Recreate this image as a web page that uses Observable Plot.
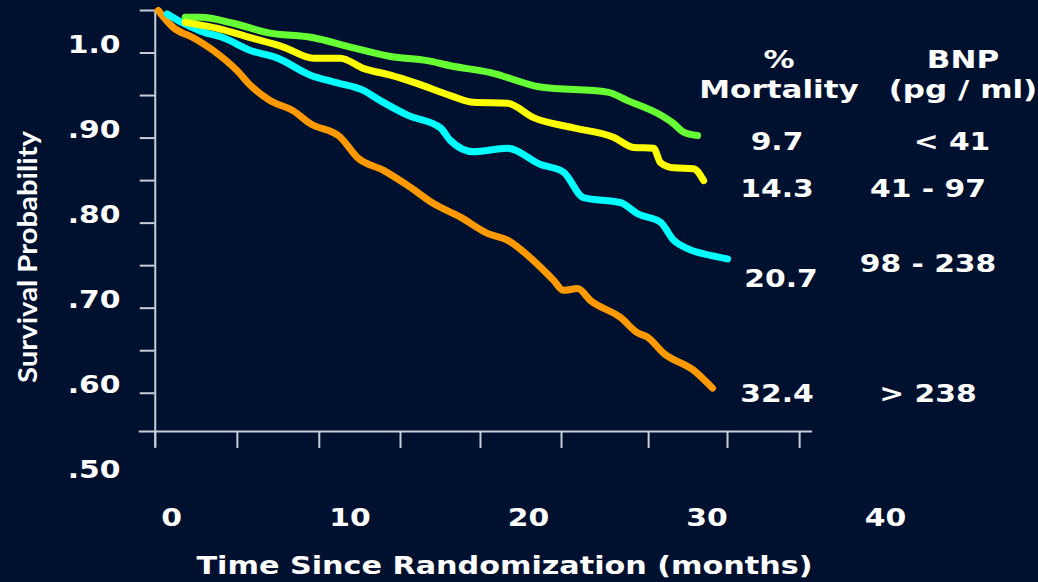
<!DOCTYPE html>
<html>
<head>
<meta charset="utf-8">
<script src="https://cdn.jsdelivr.net/npm/d3@7"></script>
<script src="https://cdn.jsdelivr.net/npm/@observablehq/plot@0.6"></script>
<style>
  html, body { margin: 0; padding: 0; background: #001130; }
  #chart { width: 1038px; height: 582px; overflow: hidden; }
</style>
</head>
<body>
<div id="chart"></div>
<script>
// ---------------- DATA ----------------
const bnpGroups = ["< 41", "41 - 97", "98 - 238", "> 238"];
const mortality = ["9.7", "14.3", "20.7", "32.4"];
const legendHeaders = [["%", "Mortality"], ["BNP", "(pg / ml)"]];

// [months, survival probability]
const curveLt41 = [[0.77,1.042],[1.61,1.042],[3.46,1.035],[5.37,1.024],[7.96,1.018],[10.02,1.007],[12.27,0.996],[14.34,0.991],[15.63,0.985],[17.87,0.977],[20.67,0.960],[24.43,0.954],[25.55,0.944],[27.40,0.927],[28.13,0.917],[28.69,0.907],[29.47,0.903]];
const curve41to97 = [[0.77,1.036],[2.57,1.029],[4.42,1.018],[6.27,1.007],[7.96,0.994],[9.46,0.994],[10.75,0.982],[12.27,0.974],[13.78,0.964],[15.63,0.950],[16.92,0.942],[18.82,0.941],[20.28,0.924],[22.52,0.912],[24.76,0.901],[25.89,0.889],[27.01,0.888],[27.40,0.871],[28.13,0.865],[29.25,0.864],[29.81,0.850]];
const curve98to238 = [[-0.24,1.046],[0.66,1.035],[1.61,1.026],[2.90,1.018],[4.42,1.003],[5.94,0.994],[7.78,0.974],[9.29,0.965],[10.75,0.956],[11.70,0.944],[13.22,0.927],[15.07,0.912],[15.63,0.897],[16.92,0.884],[18.82,0.888],[20.67,0.869],[21.96,0.860],[23.08,0.830],[25.16,0.824],[26.11,0.811],[27.40,0.801],[28.13,0.780],[28.91,0.770],[30.20,0.762],[31.15,0.758]];
const curveGt238 = [[-0.74,1.050],[0.10,1.030],[1.22,1.018],[2.34,1.003],[3.69,0.979],[4.42,0.962],[5.54,0.944],[6.83,0.932],[7.78,0.917],[9.46,0.901],[10.42,0.877],[11.88,0.862],[13.39,0.842],[14.68,0.823],[16.19,0.807],[17.70,0.788],[18.82,0.780],[20.28,0.756],[21.40,0.733],[21.96,0.721],[22.75,0.723],[23.47,0.709],[25.16,0.689],[26.11,0.671],[26.67,0.666],[27.57,0.647],[29.25,0.627],[30.31,0.606]];

// axis ticks and labels
const xTickPos = [-0.91, 3.69, 8.28, 12.83, 17.31, 21.85, 26.73, 31.15, 35.19];
const xLabelValues = [0, 10, 20, 30, 40];
const yTicks = [1.05, 1.0, 0.95, 0.90, 0.85, 0.80, 0.75, 0.70, 0.65, 0.60];
const yLabelValues = [1.0, 0.9, 0.8, 0.7, 0.6, 0.5];
const yLabels = ["1.0", ".90", ".80", ".70", ".60", ".50"];
const xTitle = "Time Since Randomization (months)";
const yTitle = "Survival Probability";

// ---------------- LAYOUT / STYLE ----------------
const W = 1038, H = 582;
const xDomain = [0, 40];
const yDomain = [0.555, 1.05];
const lineColors = ["#66ff33", "#ffff00", "#00ffff", "#ff9900"];
const axisColor = "#c9cdd6";
const font = "DejaVu Sans";
const stretch = 1.19;
const headerStretch = 1.24;

const curves = [curveLt41, curve41to97, curve98to238, curveGt238];
const rows = curves.flatMap((c, gi) => c.map(([t, s]) => ({group: bnpGroups[gi], t, s})));
const drawOrder = [3, 2, 0, 1];

const x0 = xTickPos[0];
const common = {fill: "#fff", fontFamily: font, fontWeight: "bold", fontSize: 25};

const chart = Plot.plot({
  width: W, height: H,
  marginLeft: 171, marginRight: 153, marginTop: 10, marginBottom: 151,
  x: {domain: xDomain, axis: null},
  y: {domain: yDomain, axis: null},
  style: {background: "#001130", overflow: "visible"},
  marks: [
    // axis lines
    Plot.ruleX([x0], {y1: d3.max(yTicks), y2: yDomain[0], insetBottom: -16, stroke: axisColor, strokeWidth: 2}),
    Plot.ruleY([yDomain[0]], {x1: x0, x2: xTickPos[xTickPos.length - 1], insetLeft: -16, insetRight: -13, stroke: axisColor, strokeWidth: 2}),
    // ticks
    Plot.ruleX(xTickPos, {y1: yDomain[0], y2: yDomain[0], insetBottom: -17, stroke: axisColor, strokeWidth: 2}),
    Plot.ruleY(yTicks, {x1: x0, x2: x0, insetLeft: -15, stroke: axisColor, strokeWidth: 2}),
    // tick labels
    Plot.text(yLabelValues, {y: d => d, text: (d, i) => yLabels[i], frameAnchor: "left", dx: -51, dy: 0,
      textAnchor: "end", lineAnchor: "bottom", ...common}),
    Plot.text(xLabelValues, {x: d => d, text: d => String(d), frameAnchor: "bottom", dy: 94,
      lineAnchor: "bottom", ...common}),
    // axis titles
    Plot.text([xTitle], {frameAnchor: "bottom", dx: -24, dy: 142, lineAnchor: "bottom", ...common, fontSize: 24}),
    Plot.text([yTitle], {frameAnchor: "left", dx: -143, dy: 162, rotate: -90, lineAnchor: "middle",
      fill: "#fff", fontFamily: "Lato", fontWeight: "bold", fontSize: 27}),
    // survival curves
    ...drawOrder.map(gi => Plot.line(rows.filter(r => r.group === bnpGroups[gi]), {
      x: "t", y: "s", stroke: lineColors[gi], strokeWidth: 7, curve: "monotone-x",
      strokeLinejoin: "round", strokeLinecap: "round"
    }))
  ]
});

document.getElementById("chart").appendChild(chart);

// legend (table of mortality / BNP)
const legendLayout = {
  headerX: [779, 963], headerY: [68, 98],
  mortX: [777, 777, 781, 777], mortY: [150, 197, 287, 402],
  bnpX: [952, 928, 928, 928], bnpY: [150, 197, 272, 402]
};
const lg = d3.select(chart).append("g")
  .attr("font-family", font).attr("font-weight", "bold").attr("font-size", 25)
  .attr("fill", "#fff").attr("text-anchor", "middle");
const headerTexts = new Set(legendHeaders.flat());
legendHeaders.forEach((col, ci) => col.forEach((t, li) => {
  lg.append("text").attr("x", legendLayout.headerX[ci]).attr("y", legendLayout.headerY[li]).text(t);
}));
mortality.forEach((t, i) => lg.append("text").attr("x", legendLayout.mortX[i]).attr("y", legendLayout.mortY[i]).text(t));
bnpGroups.forEach((t, i) => lg.append("text").attr("x", legendLayout.bnpX[i]).attr("y", legendLayout.bnpY[i]).text(t));

// widen glyphs to match the stretched slide lettering
const targets = {[xTitle]: 616, [yTitle]: 252};
chart.querySelectorAll("text").forEach(t => {
  const w = t.getComputedTextLength();
  if (!w) return;
  const txt = t.textContent;
  const k = headerTexts.has(txt) ? headerStretch : stretch;
  const target = targets[txt] != null ? targets[txt] : w * k;
  t.setAttribute("textLength", target);
  t.setAttribute("lengthAdjust", "spacingAndGlyphs");
});
</script>
</body>
</html>
